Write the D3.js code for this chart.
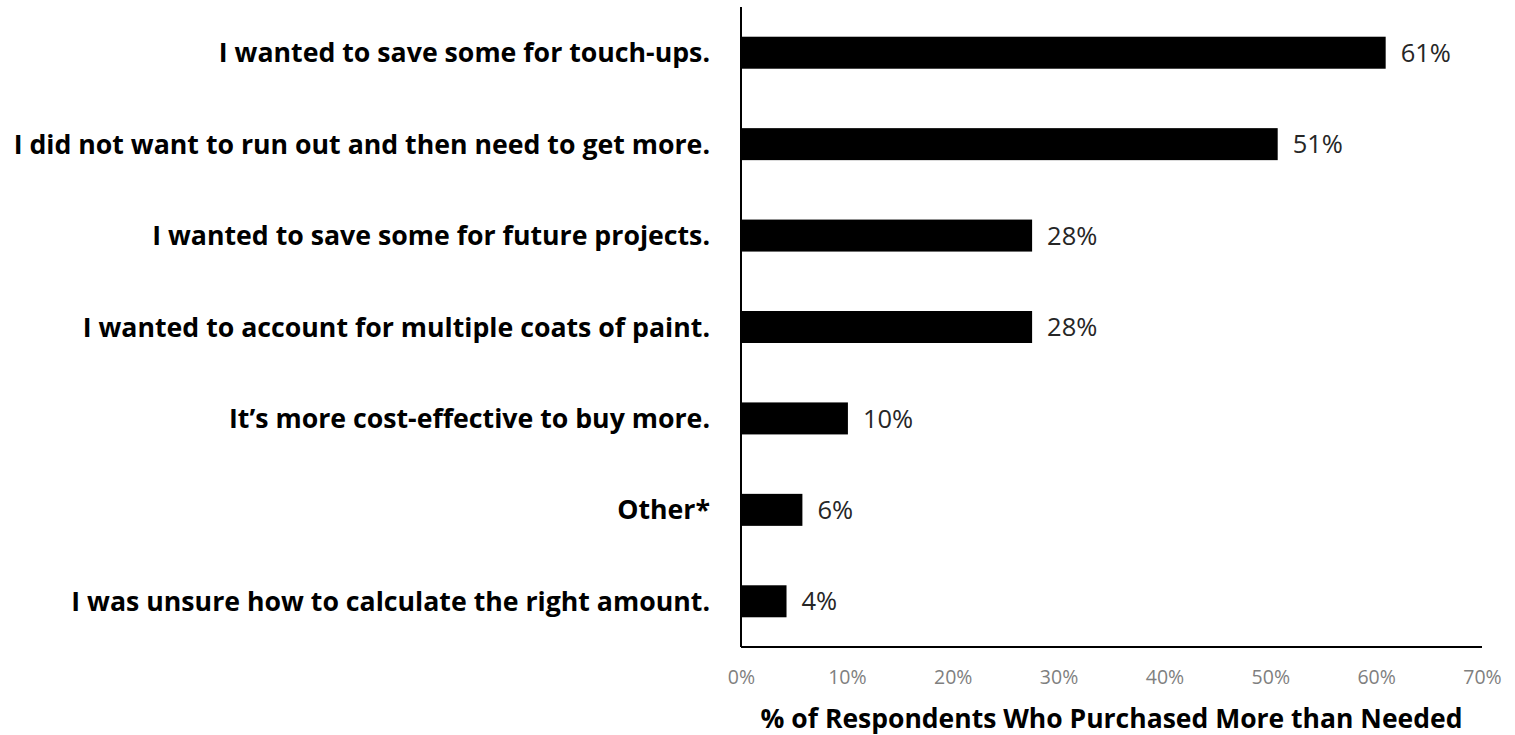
<!DOCTYPE html>
<html><head><meta charset="utf-8">
<script src="https://cdn.jsdelivr.net/npm/d3@7"></script>
<style>body{margin:0;background:#fff}svg{display:block}</style>
</head><body>
<svg id="chart" width="1515" height="735"></svg>
<script>
const categories = [
  "I wanted to save some for touch-ups.",
  "I did not want to run out and then need to get more.",
  "I wanted to save some for future projects.",
  "I wanted to account for multiple coats of paint.",
  "It’s more cost-effective to buy more.",
  "Other*",
  "I was unsure how to calculate the right amount."
];
const values = [60.9, 50.7, 27.5, 27.5, 10.1, 5.8, 4.3];
const valueLabels = ["61%", "51%", "28%", "28%", "10%", "6%", "4%"];
const xTicks = [0, 10, 20, 30, 40, 50, 60, 70];
const xTitle = "% of Respondents Who Purchased More than Needed";

(function () {
const svg = d3.select("#chart");
const font = "'Open Sans', sans-serif";
const plotLeft = 741, plotRight = 1482, plotTop = 7, plotBottom = 647;

const x = d3.scaleLinear().domain([0, 70]).range([plotLeft, plotRight]);
const y = d3.scaleBand().domain(categories).range([plotTop, plotBottom]).paddingInner(0.65).paddingOuter(0.325);

svg.selectAll("rect.bar").data(categories).join("rect")
  .attr("class", "bar")
  .attr("x", x(0))
  .attr("y", d => y(d))
  .attr("width", (d, i) => x(values[i]) - x(0))
  .attr("height", y.bandwidth())
  .attr("fill", "#000");

svg.selectAll("text.val").data(categories).join("text")
  .attr("class", "val")
  .attr("x", (d, i) => x(values[i]) + 15)
  .attr("y", d => y(d) + y.bandwidth() / 2)
  .attr("dy", "0.36em")
  .attr("font-family", font)
  .attr("font-size", 25.5)
  .attr("fill", "#262626")
  .text((d, i) => valueLabels[i]);

svg.selectAll("text.cat").data(categories).join("text")
  .attr("class", "cat")
  .attr("x", 710)
  .attr("y", d => y(d) + y.bandwidth() / 2)
  .attr("dy", "0.36em")
  .attr("text-anchor", "end")
  .attr("font-family", font)
  .attr("font-weight", "bold")
  .attr("font-size", 26.7)
  .attr("fill", "#000")
  .text(d => d);

svg.append("line").attr("x1", x(0)).attr("x2", x(0)).attr("y1", plotTop).attr("y2", plotBottom)
  .attr("stroke", "#000").attr("stroke-width", 2);
const xAxis = d3.axisBottom(x).tickValues(xTicks).tickFormat(d => d + "%").tickSize(0).tickPadding(23);
const gx = svg.append("g").attr("transform", `translate(0,${plotBottom})`).call(xAxis);
gx.select(".domain").attr("stroke", "#000").attr("stroke-width", 2).attr("d", `M${x(0)},0H${plotRight}`);
gx.selectAll("text").attr("font-family", font).attr("font-size", 19.5).attr("fill", "#7f7f7f");

svg.append("text")
  .attr("x", (plotLeft + plotRight) / 2)
  .attr("y", 718)
  .attr("dy", "0.36em")
  .attr("text-anchor", "middle")
  .attr("font-family", font)
  .attr("font-weight", "bold")
  .attr("font-size", 26.5)
  .attr("fill", "#000")
  .text(xTitle);
})();
</script>
</body></html>
